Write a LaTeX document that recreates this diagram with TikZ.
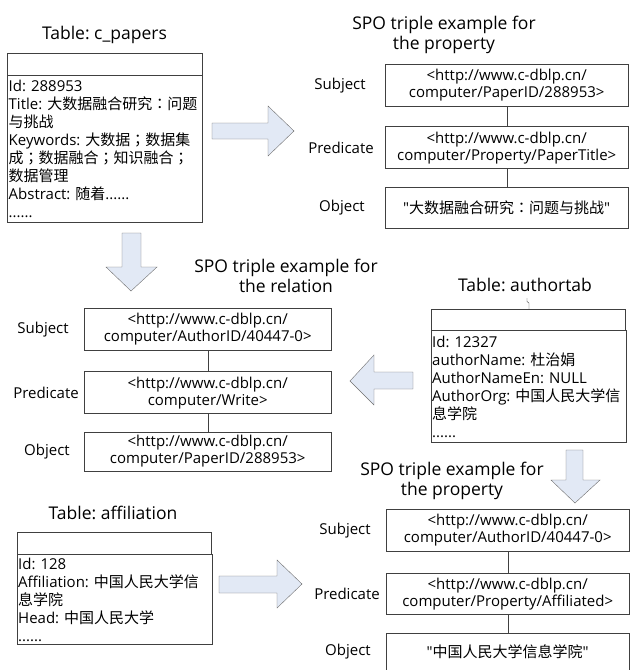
\documentclass[tikz,border=0pt]{standalone}
\usepackage{fontspec}
\setmainfont{Open Sans}[Ligatures=TeXOff]
\newfontfamily\cjk{Noto Sans CJK SC}[Ligatures=TeXOff]
\newfontfamily\cjkpunct{Noto Sans CJK TC}[Ligatures=TeXOff]
\newcommand{\zh}[1]{{\cjk #1}}
\newcommand{\zhcolon}{{\cjkpunct ：}}
\newcommand{\zhsemi}{{\cjkpunct ；}}
\frenchspacing
\usetikzlibrary{positioning}
\definecolor{boxline}{HTML}{404040}
\definecolor{arrowfill}{HTML}{E2E9F5}
\definecolor{arrowline}{HTML}{6E6E6E}

\begin{document}
\begin{tikzpicture}[
        x=1pt,y=-1pt,node distance=20pt,
        every node/.style={inner sep=0pt,font=\fontsize{15}{18}\selectfont},
        tabtitle/.style={font=\fontsize{17.5}{21}\selectfont},
        tabhead/.style={draw=boxline,minimum width=195pt,minimum height=22pt,anchor=north west},
        tabbody/.style={draw=boxline,minimum width=195pt,text width=192pt,align=left,inner xsep=1.5pt},
        spotitle/.style={font=\fontsize{17.5}{20}\selectfont,align=center},
        spobox/.style={draw=boxline,minimum width=243pt,minimum height=42pt,align=center,
          font=\fontsize{15}{17}\selectfont},
        link/.style={draw=boxline},
        blockarrow/.style={draw=arrowline,fill=arrowfill,line join=miter},
        ]
        \useasboundingbox (0,0) rectangle (630,670);

        % table c_papers
        \node[tabtitle] (cp-title) at (104.5,35) {Table: c\_papers};
        \node[tabhead] (cp-head) at (7,53) {};
        \node[tabbody,below=0pt of cp-head,minimum height=147pt] (cp-body) {Id: 288953\\
          Title: \zh{大数据融合研究}\zhcolon\zh{问题}\\
          \zh{与挑战}\\
          Keywords: \zh{大数据}\zhsemi\zh{数据集}\\
          \zh{成}\zhsemi\zh{数据融合}\zhsemi\zh{知识融合}\zhsemi\\
          \zh{数据管理}\\
          Abstract: \zh{随着}......\\
          ......};

        % property triple of the paper
        \node[spotitle] (pp-title) at (444,35) {SPO triple example for\\the property};
        \node[spobox,anchor=north west] (pp-subj) at (385,64) {<http://www.c-dblp.cn/\\computer/PaperID/288953>};
        \node[spobox,below=of pp-subj] (pp-pred) {<http://www.c-dblp.cn/\\computer/Property/PaperTitle>};
        \node[spobox,below=18pt of pp-pred,minimum height=41pt] (pp-obj) {"\zh{大数据融合研究}\zhcolon\zh{问题与挑战}"};
        \node (pp-subj-l) at (340,0 |- pp-subj) {Subject};
        \node (pp-pred-l) at (341,0 |- pp-pred) {Predicate};
        \node (pp-obj-l) at (342,0 |- pp-obj) {Object};
        \path[link] (pp-subj) -- (pp-pred) (pp-pred) -- (pp-obj);

        % relation triple
        \node[spotitle] (rel-title) at (286,276) {SPO triple example for\\the relation};
        \node[spobox,anchor=north west,minimum width=247pt] (rel-subj) at (84,308) {<http://www.c-dblp.cn/\\computer/AuthorID/40447-0>};
        \node[spobox,below=21pt of rel-subj,minimum width=247pt] (rel-pred) {<http://www.c-dblp.cn/\\computer/Write>};
        \node[spobox,below=18pt of rel-pred,minimum width=247pt,minimum height=39pt] (rel-obj) {<http://www.c-dblp.cn/\\computer/PaperID/288953>};
        \node (rel-subj-l) at (43,0 |- rel-subj) {Subject};
        \node (rel-pred-l) at (46,0 |- rel-pred) {Predicate};
        \node (rel-obj-l) at (47,0 |- rel-obj) {Object};
        \path[link] (rel-subj) -- (rel-pred) (rel-pred) -- (rel-obj);

        % table authortab
        \node[tabtitle] (at-title) at (525,285) {Table: authortab};
        \node[tabhead,minimum width=194pt,minimum height=21pt] (at-head) at (431,309) {};
        \node[tabbody,below=0pt of at-head,minimum width=194pt,minimum height=112pt] (at-body) {Id: 12327\\
          authorName: \zh{杜治娟}\\
          AuthorNameEn: NULL\\
          AuthorOrg: \zh{中国人民大学信}\\
          \zh{息学院}\\
          ......};
        \coordinate (at-tick) at (527,298);
        \draw[boxline,thin] (at-tick) -- ++(0,3.5) -- ++(2,1.5) -- (529,0 |- at-head.north);

        % table affiliation
        \node[tabtitle] (af-title) at (113,513) {Table: affiliation};
        \node[tabhead,minimum width=194pt] (af-head) at (17,532) {};
        \node[tabbody,below=0pt of af-head,minimum width=194pt,minimum height=90pt] (af-body) {Id: 128\\
          Affiliation: \zh{中国人民大学信}\\
          \zh{息学院}\\
          Head: \zh{中国人民大学}\\
          ......};

        % property triple of the author
        \node[spotitle] (ap-title) at (452,481) {SPO triple example for\\the property};
        \node[spobox,anchor=north west] (ap-subj) at (386,509) {<http://www.c-dblp.cn/\\computer/AuthorID/40447-0>};
        \node[spobox,below=22pt of ap-subj,minimum height=41pt] (ap-pred) {<http://www.c-dblp.cn/\\computer/Property/Affiliated>};
        \node[spobox,below=18pt of ap-pred,minimum height=38pt] (ap-obj) {"\zh{中国人民大学信息学院}"};
        \node (ap-subj-l) at (345,0 |- ap-subj) {Subject};
        \node (ap-pred-l) at (347,0 |- ap-pred) {Predicate};
        \node (ap-obj-l) at (348,0 |- ap-obj) {Object};
        \path[link] (ap-subj) -- (ap-pred) (ap-pred) -- (ap-obj);

        % block arrows
        \draw[blockarrow] (212,123) -- (268,123) -- (268,106) -- (294,131) -- (268,156) -- (268,139) -- (212,139) -- cycle;
        \draw[blockarrow] (122,233) -- (141,233) -- (141,267) -- (157,267) -- (131,291) -- (106,267) -- (122,267) -- cycle;
        \draw[blockarrow] (413,372) -- (374,372) -- (374,355) -- (350,381) -- (374,405) -- (374,389) -- (413,389) -- cycle;
        \draw[blockarrow] (566,450) -- (583,450) -- (583,480) -- (600,480) -- (575,503) -- (551,480) -- (566,480) -- cycle;
        \draw[blockarrow] (219,576) -- (277,576) -- (277,560) -- (302,584) -- (277,608) -- (277,593) -- (219,593) -- cycle;
      \end{tikzpicture}
\end{document}
